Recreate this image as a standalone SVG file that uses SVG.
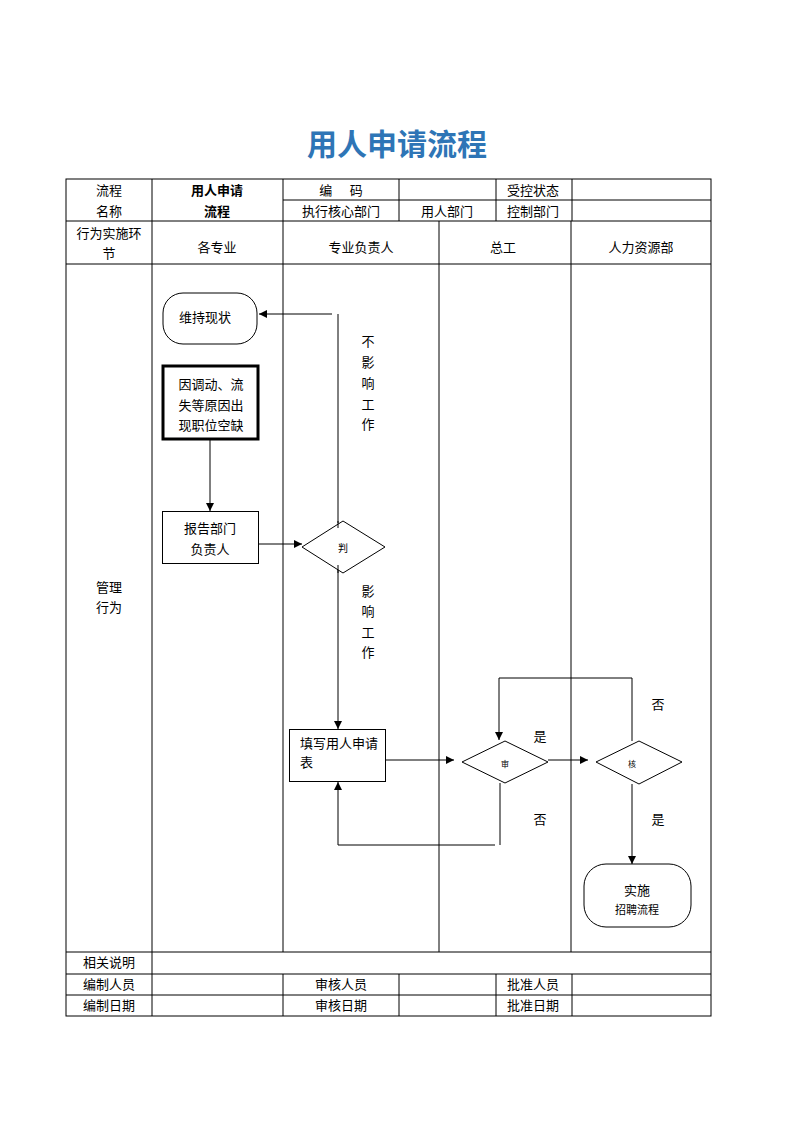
<svg xmlns="http://www.w3.org/2000/svg" width="794" height="1123" viewBox="0 0 794 1123">
<style>
.t{font-family:"Noto Sans CJK SC","Liberation Sans",sans-serif;font-size:13px;fill:#000;text-anchor:middle;dominant-baseline:central;transform:translateY(-1px)}
.b{font-weight:bold}
.g{stroke:#000;stroke-width:1;fill:none}
.n{stroke:#000;stroke-width:1;fill:#fff}
.c{stroke:#000;stroke-width:1;fill:none}
</style>
<defs>
<marker id="ar" viewBox="0 0 10 10" refX="10" refY="5" markerWidth="8" markerHeight="8" markerUnits="userSpaceOnUse" orient="auto">
<path d="M0,0 L10,5 L0,10 z" fill="#000"/>
</marker>
</defs>
<rect width="794" height="1123" fill="#fff"/>
<text x="397" y="142" font-family="'Noto Sans CJK SC','Liberation Sans',sans-serif" font-size="30" font-weight="bold" fill="#2E75B6" text-anchor="middle" dominant-baseline="central">用人申请流程</text>

<g id="table">
<rect class="g" x="66" y="179" width="645" height="837"/>
<line class="g" x1="283" y1="200" x2="711" y2="200"/>
<line class="g" x1="66" y1="221" x2="711" y2="221"/>
<line class="g" x1="66" y1="264" x2="711" y2="264"/>
<line class="g" x1="66" y1="952" x2="711" y2="952"/>
<line class="g" x1="66" y1="974" x2="711" y2="974"/>
<line class="g" x1="66" y1="995" x2="711" y2="995"/>
<line class="g" x1="152" y1="179" x2="152" y2="1016"/>
<line class="g" x1="283" y1="179" x2="283" y2="952"/>
<line class="g" x1="399" y1="179" x2="399" y2="221"/>
<line class="g" x1="496" y1="179" x2="496" y2="221"/>
<line class="g" x1="572" y1="179" x2="572" y2="221"/>
<line class="g" x1="439" y1="221" x2="439" y2="952"/>
<line class="g" x1="571" y1="221" x2="571" y2="952"/>
<line class="g" x1="283" y1="974" x2="283" y2="1016"/>
<line class="g" x1="399" y1="974" x2="399" y2="1016"/>
<line class="g" x1="496" y1="974" x2="496" y2="1016"/>
<line class="g" x1="572" y1="974" x2="572" y2="1016"/>
<text class="t" x="109" y="190">流程</text>
<text class="t" x="109" y="211">名称</text>
<text class="t b" x="217" y="190">用人申请</text>
<text class="t b" x="217" y="211">流程</text>
<text class="t" x="341" y="190" xml:space="preserve">编      码</text>
<text class="t" x="533" y="190">受控状态</text>
<text class="t" x="341" y="211">执行核心部门</text>
<text class="t" x="447" y="211">用人部门</text>
<text class="t" x="533" y="211">控制部门</text>
<text class="t" x="109" y="233">行为实施环</text>
<text class="t" x="109" y="253">节</text>
<text class="t" x="217" y="247">各专业</text>
<text class="t" x="361" y="247">专业负责人</text>
<text class="t" x="503" y="247">总工</text>
<text class="t" x="641" y="247">人力资源部</text>
<text class="t" x="109" y="587">管理</text>
<text class="t" x="109" y="607">行为</text>
<text class="t" x="109" y="962">相关说明</text>
<text class="t" x="109" y="984">编制人员</text>
<text class="t" x="341" y="984">审核人员</text>
<text class="t" x="533" y="984">批准人员</text>
<text class="t" x="109" y="1005">编制日期</text>
<text class="t" x="341" y="1005">审核日期</text>
<text class="t" x="533" y="1005">批准日期</text>
</g>

<g id="connectors">
<line class="c" x1="210" y1="439" x2="210" y2="511" marker-end="url(#ar)"/>
<line class="c" x1="258" y1="544" x2="302" y2="544" marker-end="url(#ar)"/>
<line class="c" x1="338" y1="314" x2="338" y2="523"/>
<line class="c" x1="332" y1="314" x2="259" y2="314" marker-end="url(#ar)"/>
<line class="c" x1="338" y1="565" x2="338" y2="729" marker-end="url(#ar)"/>
<line class="c" x1="386" y1="760" x2="454" y2="760" marker-end="url(#ar)"/>
<line class="c" x1="548" y1="760" x2="588" y2="760" marker-end="url(#ar)"/>
<polyline class="c" points="632,741 632,678 499,678 499,740" marker-end="url(#ar)"/>
<polyline class="c" points="500,783 500,845"/>
<polyline class="c" points="495,845 338,845 338,782" marker-end="url(#ar)"/>
<line class="c" x1="632" y1="784" x2="632" y2="864" marker-end="url(#ar)"/>
<text class="t" x="368" y="341">不</text>
<text class="t" x="368" y="362">影</text>
<text class="t" x="368" y="383">响</text>
<text class="t" x="368" y="404">工</text>
<text class="t" x="368" y="424">作</text>
<text class="t" x="368" y="591">影</text>
<text class="t" x="368" y="611">响</text>
<text class="t" x="368" y="632">工</text>
<text class="t" x="368" y="652">作</text>
<text class="t" x="540" y="736">是</text>
<text class="t" x="540" y="819">否</text>
<text class="t" x="658" y="704">否</text>
<text class="t" x="658" y="819">是</text>
</g>

<g id="n_keep">
<rect class="n" x="163" y="293" width="94" height="51" rx="20" ry="20"/>
<text class="t" x="205" y="317">维持现状</text>
</g>
<g id="n_vacancy">
<rect x="163" y="366" width="95" height="73" fill="#fff" stroke="#000" stroke-width="3"/>
<text class="t" x="211" y="384">因调动、流</text>
<text class="t" x="211" y="405">失等原因出</text>
<text class="t" x="211" y="425">现职位空缺</text>
</g>
<g id="n_report">
<rect class="n" x="162.5" y="511.5" width="96" height="52"/>
<text class="t" x="210" y="528">报告部门</text>
<text class="t" x="210" y="549">负责人</text>
</g>
<g id="n_judge">
<polygon class="n" points="302,547 343,521 385,547 343,573"/>
<line class="c" x1="338" y1="521" x2="338" y2="528"/>
<line class="c" x1="338" y1="565" x2="338" y2="573"/>
<text class="t" x="343" y="548" style="font-size:10px">判</text>
</g>
<g id="n_fill">
<rect class="n" x="289.5" y="729.5" width="96" height="52"/>
<text class="t" x="300" y="743" style="text-anchor:start">填写用人申请</text>
<text class="t" x="300" y="762" style="text-anchor:start">表</text>
</g>
<g id="n_review">
<polygon class="n" points="462,762 505,741 548,762 505,783"/>
<text class="t" x="505" y="764" style="font-size:8px">审</text>
</g>
<g id="n_check">
<polygon class="n" points="596,762 639,741 682,762 639,784"/>
<text class="t" x="632" y="764" style="font-size:8px">核</text>
</g>
<g id="n_recruit">
<rect class="n" x="584" y="864" width="107" height="63" rx="22" ry="22"/>
<text class="t" x="637" y="890">实施</text>
<text class="t" x="637" y="910" style="font-size:11px">招聘流程</text>
</g>
</svg>
